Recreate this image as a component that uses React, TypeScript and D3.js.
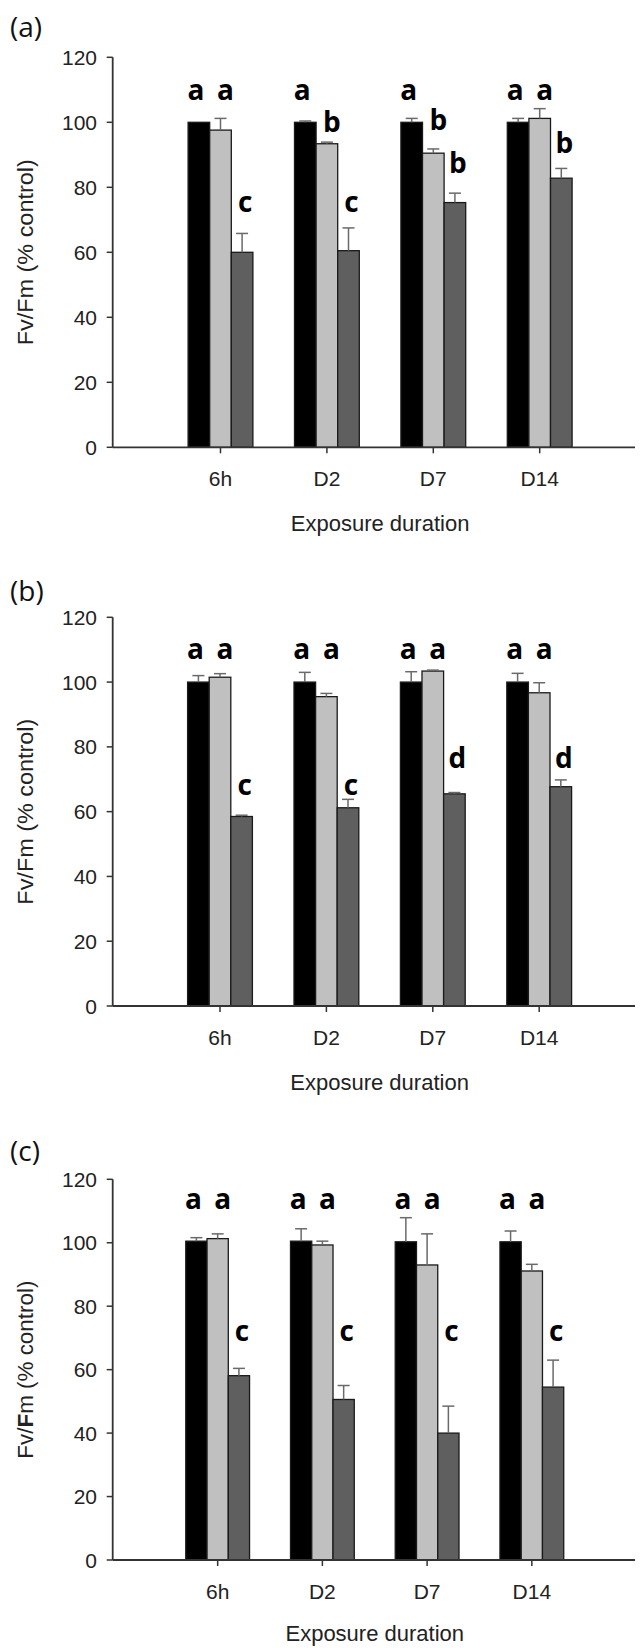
import React from "react";
import * as d3 from "d3";

// exposure durations on the x axis
const categories = ["6h", "D2", "D7", "D14"];
const yTicks = [0, 20, 40, 60, 80, 100, 120];
const seriesFills = ["#000000", "#c0c0c0", "#5f5f5f"];

// panel (a)
const controlA = [100, 100, 100, 100];
const controlErrA = [0, 0.4, 1.2, 1.2];
const lowA = [97.6, 93.4, 90.5, 101.2];
const lowErrA = [3.6, 0.5, 1.3, 3.0];
const highA = [60, 60.5, 75.3, 82.8];
const highErrA = [5.8, 7.0, 2.9, 3.0];
const lettersA = [["a", "a", "c"], ["a", "b", "c"], ["a", "b", "b"], ["a", "a", "b"]];
const letterLevelA = [[106.9, 106.9, 72.5], [106.9, 97.1, 72.5], [106.9, 97.6, 84.3], [106.9, 106.9, 90.6]];

// panel (b)
const controlB = [100, 100, 100, 100];
const controlErrB = [2.0, 3.0, 3.2, 2.7];
const lowB = [101.5, 95.5, 103.4, 96.7];
const lowErrB = [1.1, 1.0, 0.3, 3.1];
const highB = [58.5, 61.2, 65.5, 67.7];
const highErrB = [0.4, 2.6, 0.4, 2.1];
const lettersB = [["a", "a", "c"], ["a", "a", "c"], ["a", "a", "d"], ["a", "a", "d"]];
const letterLevelB = [[107, 107, 65.2], [107, 107, 65.2], [107, 107, 73.4], [107, 107, 73.4]];

// panel (c)
const controlC = [100.5, 100.5, 100.3, 100.3];
const controlErrC = [1.1, 3.9, 7.6, 3.4];
const lowC = [101.3, 99.3, 93.0, 91.1];
const lowErrC = [1.5, 1.2, 9.8, 2.1];
const highC = [58.1, 50.6, 40.0, 54.5];
const highErrC = [2.3, 4.4, 8.5, 8.5];
const lettersC = [["a", "a", "c"], ["a", "a", "c"], ["a", "a", "c"], ["a", "a", "c"]];
const letterLevelC = [[110.6, 110.6, 69.1], [110.6, 110.6, 69.1], [110.6, 110.6, 69.1], [110.6, 110.6, 69.1]];

const axisFont = "'Liberation Sans', Arial, sans-serif";
const letterFont = "'Open Sans', 'Liberation Sans', sans-serif";
const letterShift = [-3, 5, 3];

function Panel({ label, labelY, top, base, band, means, errs, letters, levels, titleLen, titleY, boldF }) {
  const axisLeft = 112.7;
  const axisRight = 635;
  const y = d3.scaleLinear().domain([0, 120]).range([base, top]);
  const x = d3.scaleBand().domain(categories).range(band).padding(0);
  const barW = x.bandwidth() * 0.203;
  const inner = d3
    .scaleBand()
    .domain(["0", "1", "2"])
    .range([-barW * 1.5, barW * 1.5]);
  const mid = (band[0] + band[1]) / 2;
  const yMid = (top + base) / 2;

  return (
    <g>
      <text x={10} y={labelY} fontFamily={letterFont} fontSize={28} fill="#111">
        {label}
      </text>

      {/* bars */}
      {categories.map((c, i) =>
        means.map((vals, s) => {
          const cx = x(c) + x.bandwidth() / 2 + inner(String(s));
          return (
            <rect
              key={c + s}
              x={cx}
              y={y(vals[i])}
              width={inner.bandwidth()}
              height={base - y(vals[i])}
              fill={seriesFills[s]}
              stroke="#1a1a1a"
              strokeWidth={1.3}
            />
          );
        })
      )}

      {/* error bars, upper side only */}
      {categories.map((c, i) =>
        errs.map((e, s) => {
          if (e[i] <= 0) return null;
          const cx = x(c) + x.bandwidth() / 2 + inner(String(s)) + inner.bandwidth() / 2;
          const y0 = y(means[s][i]);
          const y1 = y(means[s][i] + e[i]);
          return (
            <g key={"e" + c + s} stroke="#6a6a6a" strokeWidth={1.5}>
              <line x1={cx} x2={cx} y1={y0} y2={y1} />
              <line x1={cx - 6} x2={cx + 6} y1={y1} y2={y1} />
            </g>
          );
        })
      )}

      {/* significance letters */}
      {categories.map((c, i) =>
        letters[i].map((l, s) => {
          const cx =
            x(c) + x.bandwidth() / 2 + inner(String(s)) + inner.bandwidth() / 2 + letterShift[s];
          return (
            <text
              key={"l" + c + s}
              x={cx}
              y={y(levels[i][s])}
              textAnchor="middle"
              fontFamily={letterFont}
              fontWeight="bold"
              fontSize={28}
              fill="#000"
            >
              {l}
            </text>
          );
        })
      )}

      {/* y axis */}
      <line x1={axisLeft} x2={axisLeft} y1={y(120)} y2={base} stroke="#333" strokeWidth={1.8} />
      {yTicks.map((t) => (
        <g key={"yt" + t}>
          <line x1={axisLeft - 6} x2={axisLeft} y1={y(t)} y2={y(t)} stroke="#333" strokeWidth={1.5} />
          <text
            x={97}
            y={y(t)}
            dy="0.36em"
            textAnchor="end"
            fontFamily={axisFont}
            fontSize={21}
            fill="#222"
          >
            {t}
          </text>
        </g>
      ))}

      {/* x axis */}
      <line x1={axisLeft} x2={axisRight} y1={base} y2={base} stroke="#333" strokeWidth={1.8} />
      {categories.map((c) => {
        const cx = x(c) + x.bandwidth() / 2;
        return (
          <g key={"xt" + c}>
            <line x1={cx} x2={cx} y1={base} y2={base + 6} stroke="#333" strokeWidth={1.5} />
            <text
              x={cx}
              y={base + 39}
              textAnchor="middle"
              fontFamily={axisFont}
              fontSize={21}
              fill="#222"
            >
              {c}
            </text>
          </g>
        );
      })}

      <text
        x={mid}
        y={titleY}
        textAnchor="middle"
        fontFamily={axisFont}
        fontSize={22}
        fill="#222"
      >
        Exposure duration
      </text>

      <text
        transform={`translate(33, ${yMid}) rotate(-90)`}
        textAnchor="middle"
        fontFamily={axisFont}
        fontSize={22}
        fill="#222"
        textLength={titleLen}
        lengthAdjust="spacingAndGlyphs"
      >
        Fv/{boldF ? <tspan fontWeight="bold">F</tspan> : "F"}m (% control)
      </text>
    </g>
  );
}

export default function App() {
  return (
    <svg
      width={640}
      height={1648}
      style={{ position: "absolute", left: 0, top: 0, display: "block", background: "#fff" }}
    >
      <rect width={640} height={1648} fill="#fff" />
      <Panel
        label="(a)"
        labelY={37}
        top={57.3}
        base={447.3}
        band={[167.3, 592.9]}
        means={[controlA, lowA, highA]}
        errs={[controlErrA, lowErrA, highErrA]}
        letters={lettersA}
        levels={letterLevelA}
        titleLen={186}
        titleY={531}
        boldF={false}
      />
      <Panel
        label="(b)"
        labelY={601}
        top={617.3}
        base={1006}
        band={[166.8, 592.4]}
        means={[controlB, lowB, highB]}
        errs={[controlErrB, lowErrB, highErrB]}
        letters={lettersB}
        levels={letterLevelB}
        titleLen={186}
        titleY={1090}
        boldF={false}
      />
      <Panel
        label="(c)"
        labelY={1161}
        top={1179.3}
        base={1560}
        band={[165.3, 584.2]}
        means={[controlC, lowC, highC]}
        errs={[controlErrC, lowErrC, highErrC]}
        letters={lettersC}
        levels={letterLevelC}
        titleLen={178}
        titleY={1641}
        boldF={true}
      />
    </svg>
  );
}
